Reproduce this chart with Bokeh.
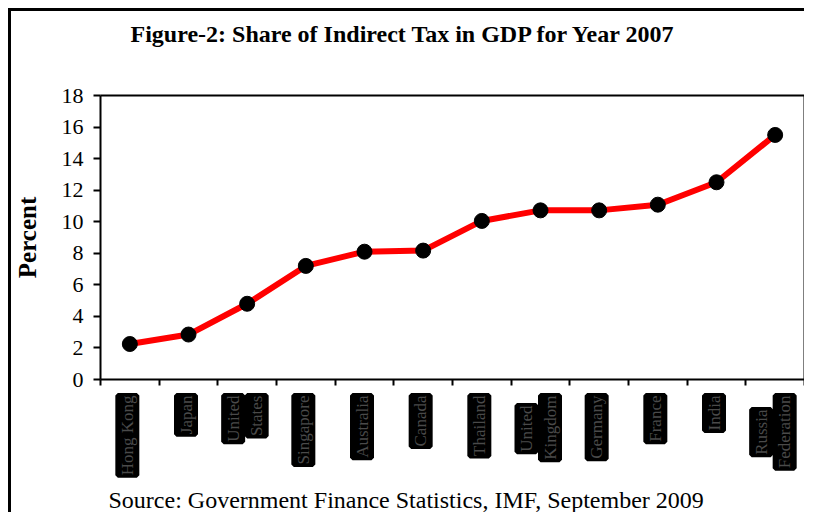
import numpy as np
from bokeh.plotting import figure
from bokeh.models import ColumnDataSource, LabelSet, Label, FixedTicker, Range1d, LinearAxis
from bokeh.embed import file_html
from bokeh.resources import INLINE

# ---- data ----
countries = ["Hong Kong", "Japan", "United\nStates", "Singapore", "Australia", "Canada",
             "Thailand", "United\nKingdom", "Germany", "France", "India", "Russia\nFederation"]
share = [2.25, 2.85, 4.8, 7.2, 8.1, 8.17, 10.05, 10.72, 10.72, 11.08, 12.5, 15.5]
y_ticks = [0, 2, 4, 6, 8, 10, 12, 14, 16, 18]
title_text = "Figure-2: Share of Indirect Tax in GDP for Year 2007"
source_text = "Source: Government Finance Statistics, IMF, September 2009"
y_label = "Percent"

# extra downward drop (px) of the shorter line in two-line labels (style)
line_drop = {("United\nKingdom", 0): 10, ("Russia\nFederation", 0): 14}

n = len(countries)
xs = np.arange(n) + 0.5
ytop = y_ticks[-1]

# ---- layout (pixels) ----
W, H = 796, 504
plot_left, plot_right = 89, 793      # x = 0 .. n
plot_top, plot_bottom = 84, 368      # y = ytop .. 0
xu = (plot_right - plot_left) / n
yu = (plot_bottom - plot_top) / ytop
x_range = Range1d(-plot_left / xu, n + (W - plot_right) / xu)
y_range = Range1d(-(H - plot_bottom) / yu, ytop + plot_top / yu)

p = figure(width=W, height=H, output_backend="svg", toolbar_location=None,
           x_range=x_range, y_range=y_range,
           x_axis_location=None, y_axis_location=None,
           min_border=0)
p.styles = {"margin-left": "8px", "margin-top": "8px",
            "border-left": "3px solid black", "border-top": "3px solid black"}
p.xgrid.visible = False
p.ygrid.visible = False
p.outline_line_color = None

# y axis (left)
yax = LinearAxis(fixed_location=0, bounds=(0, ytop), ticker=FixedTicker(ticks=y_ticks))
yax.minor_tick_line_color = None
yax.major_tick_out = 7
yax.major_tick_in = 0
yax.major_tick_line_width = 2
yax.axis_line_width = 2
yax.major_label_text_font = "Liberation Serif"
yax.major_label_text_font_size = "22px"
yax.major_label_text_color = "black"
yax.major_label_standoff = 10
yax.axis_label = y_label
yax.axis_label_text_font = "Liberation Serif"
yax.axis_label_text_font_style = "bold"
yax.axis_label_text_font_size = "25px"
yax.axis_label_text_color = "black"
yax.axis_label_standoff = 18
p.add_layout(yax, "left")

# right frame line
rax = LinearAxis(fixed_location=n, bounds=(0, ytop), ticker=FixedTicker(ticks=[]))
rax.axis_line_width = 2
rax.major_tick_line_color = None
rax.minor_tick_line_color = None
p.add_layout(rax, "right")

# x axis: ticks at category boundaries
xax = LinearAxis(fixed_location=0, bounds=(0, n),
                 ticker=FixedTicker(ticks=[], minor_ticks=list(range(n + 1))))
xax.major_tick_line_color = None
xax.minor_tick_out = 6
xax.minor_tick_in = 0
xax.minor_tick_line_width = 2
xax.minor_tick_line_color = "black"
xax.axis_line_width = 2
p.add_layout(xax, "below")

# top frame line
tax = LinearAxis(fixed_location=ytop, bounds=(0, n), ticker=FixedTicker(ticks=[]))
tax.axis_line_width = 2
tax.major_tick_line_color = None
tax.minor_tick_line_color = None
p.add_layout(tax, "above")

src = ColumnDataSource(dict(x=xs, y=share))
p.line("x", "y", source=src, line_color="red", line_width=6)
p.scatter("x", "y", source=src, size=15, fill_color="black", line_color="black")

# category labels (rotated, each line in its own black box)
lx, lxo, lyo, lt = [], [], [], []
for i, c in enumerate(countries):
    lines = c.split("\n")
    offs = [-2.5] if len(lines) == 1 else [-14, 9.5]
    for j, w in enumerate(lines):
        lx.append(xs[i])
        lxo.append(offs[j])
        lyo.append(-16 - line_drop.get((c, j), 0))
        lt.append(w)
lsrc = ColumnDataSource(dict(x=lx, y=[0] * len(lx), xo=lxo, yo=lyo, t=lt))
labels = LabelSet(x="x", y="y", text="t", x_offset="xo", y_offset="yo", source=lsrc,
                  angle=np.pi / 2, text_align="right", text_baseline="middle",
                  text_font="monospace", text_font_size="17px",
                  text_color="#4a4a4a",
                  background_fill_color="black",
                  border_line_color="black", border_line_width=5)
p.add_layout(labels)

p.add_layout(Label(x=0, y=ytop, x_offset=30, y_offset=62, text=title_text,
                   text_align="left", text_baseline="middle",
                   text_font="Liberation Serif", text_font_style="bold",
                   text_font_size="24px", text_color="black"))
p.add_layout(Label(x=0, y=0, x_offset=8, y_offset=-120, text=source_text,
                   text_align="left", text_baseline="middle",
                   text_font="Liberation Serif", text_font_size="24px",
                   text_color="black"))

open("out.html", "w").write(file_html(p, INLINE))
